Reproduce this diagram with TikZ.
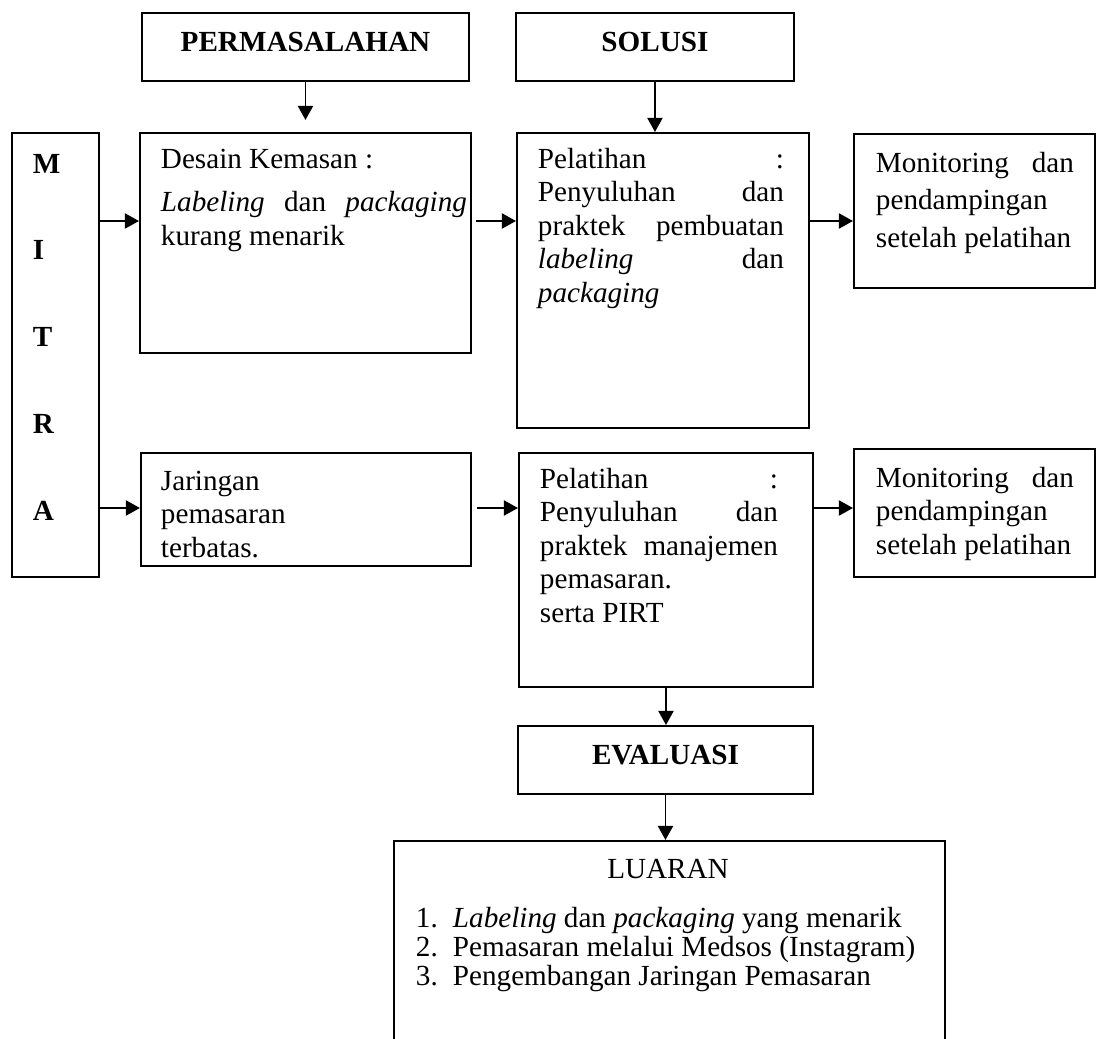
\documentclass[tikz,border=0pt]{standalone}
\usepackage{fontspec}
\setmainfont{Liberation Serif}
\usepackage{tikz}
\usetikzlibrary{arrows.meta, positioning}
\newdimen\px \px=0.4115pt

\begin{document}
\begin{tikzpicture}[x=\px, y=-\px, line width=0.8pt,
        font=\fontsize{12}{13.8}\selectfont,
        cell/.style={draw, anchor=north west, inner sep=0pt},
        head/.style={cell, font=\fontsize{12}{13.8}\selectfont\bfseries, text depth=4pt},
        note/.style={anchor=base west, inner sep=0pt, align=flush left},
        arr/.style={-{Triangle[length=5.8pt, width=6.2pt]}}]
        \useasboundingbox (0,0) rectangle (1096,1039);
        \clip (0,0) rectangle (1096,1039);

        % Headers
        \node[head, minimum width=327\px, minimum height=68\px] (perm) at (141,12) {PERMASALAHAN};
        \node[head, minimum width=278\px, minimum height=68\px] (sol) at (515,12) {SOLUSI};
        \node[head, minimum width=295\px, minimum height=68\px] (eval) at (517,725) {EVALUASI};

        % Mitra
        \node[cell, minimum width=87\px, minimum height=444\px] (mitra) at (11,132) {};
        \node[note, text width=40\px, font=\fontsize{12}{35.7}\selectfont\bfseries] (mitraT) at (32,173) {M\\I\\T\\R\\A};

        % First row
        \node[cell, minimum width=331\px, minimum height=220\px] (desain) at (139,132) {};
        \node[note, text width=287\px] (desainT) at (160,168)
            {Desain Kemasan :\\[4.3pt]
             \makebox[306\px][l]{\textit{Labeling}\hfill dan\hfill \textit{packaging}}\\
             kurang menarik};
        \node[cell, minimum width=292\px, minimum height=295\px] (pel1) at (516,132) {};
        \node[note, text width=246\px] (pel1T) at (537,168)
            {Pelatihan\hfill :\\ Penyuluhan\hfill dan\\ praktek\hfill pembuatan\\
             \textit{labeling}\hfill dan\\ \textit{packaging}};
        \node[cell, minimum width=241\px, minimum height=154\px] (mon1) at (853,133) {};
        \node[note, text width=198\px, font=\fontsize{12}{15.6}\selectfont] (mon1T) at (875,172)
            {Monitoring\hfill dan\\ pendampingan\\ setelah pelatihan};

        % Second row
        \node[cell, minimum width=330\px, minimum height=113\px] (jar) at (140,452) {};
        \node[note, text width=290\px] (jarT) at (160,490) {Jaringan\\ pemasaran\\ terbatas.};
        \node[cell, minimum width=294\px, minimum height=234\px] (pel2) at (518,452) {};
        \node[note, text width=238\px] (pel2T) at (539,488)
            {Pelatihan\hfill :\\ Penyuluhan\hfill dan\\ praktek\hfill manajemen\\
             pemasaran.\\ serta PIRT};
        \node[cell, minimum width=241\px, minimum height=128\px] (mon2) at (853,448) {};
        \node[note, text width=198\px] (mon2T) at (875,487)
            {Monitoring\hfill dan\\ pendampingan\\ setelah pelatihan};

        % Luaran
        \node[cell, minimum width=551\px, minimum height=260\px] (luaran) at (393,840) {};
        \node[anchor=base, inner sep=0pt] (luaranT) at (668,878) {LUARAN};
        \node[note, text width=520\px, font=\fontsize{12}{12.1}\selectfont] (items) at (415,927)
            {\makebox[37\px][l]{1.}\textit{Labeling} dan \textit{packaging} yang menarik\\
             \makebox[37\px][l]{2.}Pemasaran melalui Medsos (Instagram)\\
             \makebox[37\px][l]{3.}Pengembangan Jaringan Pemasaran};

        % Arrows
        \coordinate (r1) at (0,221);
        \coordinate (r2) at (0,508);
        \draw[arr, shorten >=12\px] (perm) -- (perm |- desain.north);
        \draw[arr] (sol) -- (sol |- pel1.north);
        \draw[arr] (mitra.east |- r1) -- (desain.west |- r1);
        \draw[arr, shorten <=4\px] (desain.east |- r1) -- (pel1.west |- r1);
        \draw[arr] (pel1.east |- r1) -- (mon1.west |- r1);
        \draw[arr] (mitra.east |- r2) -- (jar.west |- r2);
        \draw[arr, shorten <=5\px] (jar.east |- r2) -- (pel2.west |- r2);
        \draw[arr] (pel2.east |- r2) -- (mon2.west |- r2);
        \draw[arr] (pel2.south) -- (pel2.south |- eval.north);
        \draw[arr] (eval) -- (eval |- luaran.north);
\end{tikzpicture}
\end{document}
